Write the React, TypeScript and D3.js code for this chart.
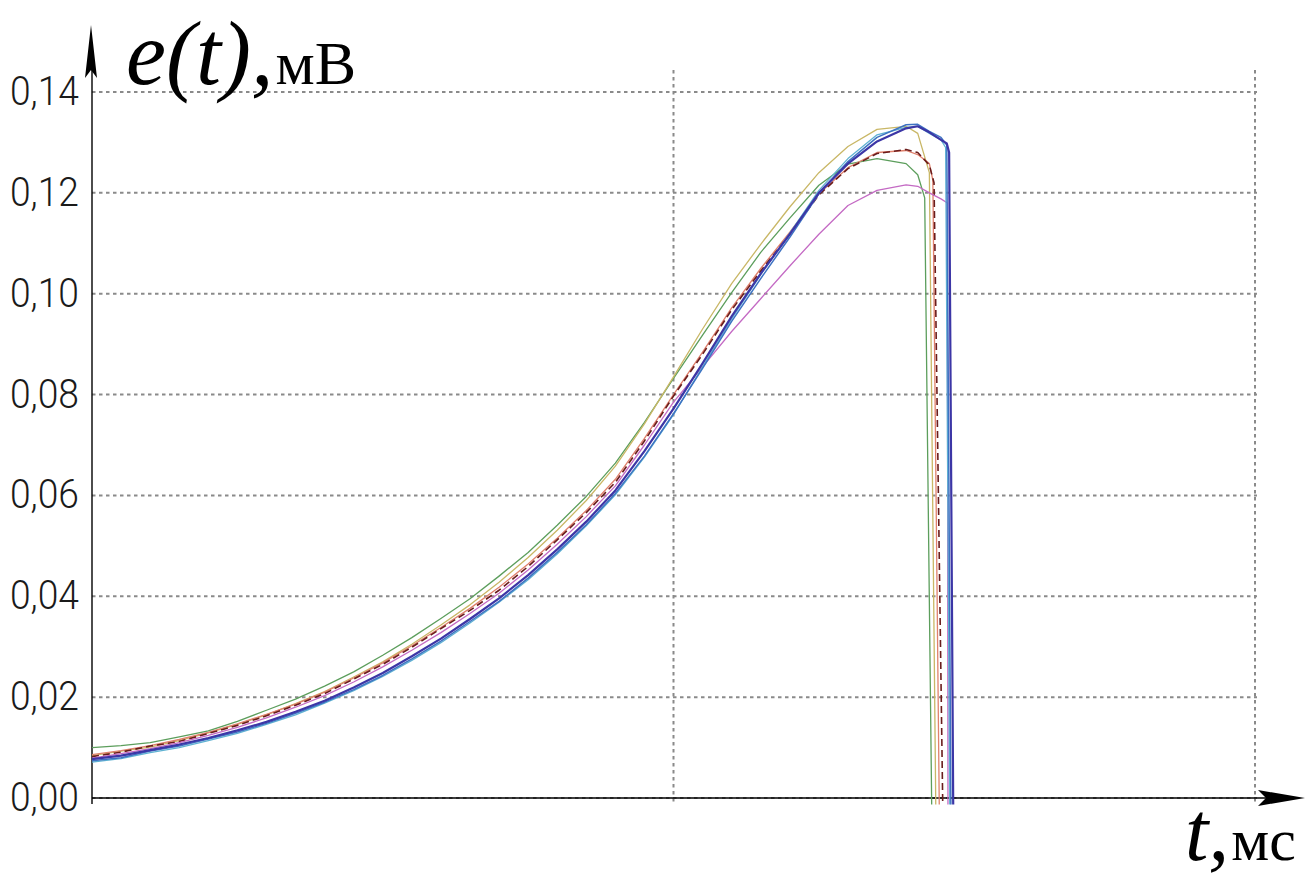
import {useEffect, useRef} from "react";
import * as d3 from 'd3'

// time grid, ms
const times = [0, 0.05, 0.1, 0.15, 0.2, 0.25, 0.3, 0.35, 0.4, 0.45, 0.5, 0.55, 0.6, 0.65, 0.7, 0.75, 0.8,
    0.85, 0.9, 0.95, 1.0, 1.05, 1.1, 1.15, 1.2, 1.25, 1.3, 1.35, 1.4, 1.42, 1.44, 1.46, 1.47]

const green = [.0100, .0104, .0110, .0121, .0133, .0152, .0174, .0196, .0222, .0250, .0283, .0318, .0356, .0395,
    .0440, .0487, .0541, .0598, .0664, .0745, .0832, .0918, .1002, .1082, .1150, .1215, .1257, .1268, .1258, .1236]
const olive = [.0084, .0093, .0101, .0114, .0129, .0146, .0165, .0187, .0211, .0240, .0270, .0305, .0343, .0383,
    .0428, .0477, .0531, .0590, .0658, .0742, .0835, .0930, .1020, .1098, .1172, .1240, .1292, .1326, .1332, .1318]
const salmon = [.0086, .0094, .0104, .0116, .0130, .0147, .0166, .0186, .0210, .0238, .0268, .0302, .0338, .0376,
    .0418, .0464, .0515, .0570, .0632, .0713, .0800, .0884, .0972, .1050, .1122, .1198, .1250, .1280, .1284, .1276, .1258]
const darkRed = [.0082, .0091, .0103, .0112, .0128, .0144, .0163, .0184, .0207, .0236, .0265, .0299, .0336, .0372,
    .0412, .0459, .0512, .0566, .0626, .0708, .0797, .0880, .0968, .1045, .1118, .1196, .1248, .1278, .1286, .1280, .1255]
const magenta = [.0079, .0088, .0098, .0110, .0124, .0140, .0159, .0180, .0203, .0230, .0260, .0293, .0328, .0366,
    .0406, .0452, .0503, .0558, .0619, .0700, .0785, .0855, .0925, .0990, .1055, .1118, .1175, .1205, .1216, .1213, .1200, .1188]
const cyan = [.0071, .0078, .0090, .0100, .0114, .0128, .0146, .0165, .0188, .0213, .0241, .0273, .0308, .0347,
    .0388, .0433, .0484, .0540, .0601, .0676, .0760, .0855, .0950, .1038, .1120, .1205, .1268, .1315, .1330, .1332, .1318, .1305]
const blue = [.0074, .0080, .0093, .0103, .0117, .0131, .0148, .0168, .0190, .0215, .0243, .0276, .0311, .0350,
    .0390, .0436, .0487, .0542, .0604, .0678, .0762, .0852, .0945, .1030, .1112, .1198, .1262, .1310, .1335, .1336, .1322, .1310]
const navy = [.0077, .0084, .0095, .0106, .0119, .0134, .0151, .0171, .0193, .0219, .0248, .0281, .0316, .0355,
    .0396, .0442, .0493, .0548, .0610, .0688, .0772, .0862, .0955, .1040, .1118, .1200, .1258, .1302, .1328, .1332, .1320, .1305, .1298]

// where each trace breaks off and falls to the floor
const seriesNames = ['green', 'olive', 'salmon', 'darkRed', 'magenta', 'cyan', 'blue', 'navy']
const dropTop = [1.432, 1.440, 1.446, 1.448, 1.471, 1.468, 1.470, 1.474]
const dropFrom = [0.119, 0.124, 0.1225, 0.122, 0.118, 0.129, 0.1295, 0.128]
const dropBottom = [1.444, 1.451, 1.457, 1.463, 1.472, 1.475, 1.477, 1.481]
const floorValue = -0.0013

const yTicks = [0, 0.02, 0.04, 0.06, 0.08, 0.1, 0.12, 0.14]
const yTickLabels = ['0,00', '0,02', '0,04', '0,06', '0,08', '0,10', '0,12', '0,14']
const xGrid = [1, 2]

const allValues = [green, olive, salmon, darkRed, magenta, cyan, blue, navy]
const colors = ['#5c9e5c', '#c9b766', '#e0806c', '#6a1c1c', '#c46ac4', '#5fb2d2', '#3d72c2', '#3c36a6']
const widths = [1.3, 1.3, 1.3, 1.6, 1.3, 1.3, 1.5, 2.2]

const W = 1306, H = 874

export default function App() {
    const ref = useRef(null)

    useEffect(() => {
        const svg = d3.select(ref.current)
        svg.selectAll('*').remove()

        const x = d3.scaleLinear().domain([0, 2]).range([92, 1255])
        const y = d3.scaleLinear().domain([0, 0.14]).range([798, 92])

        const grid = svg.append('g')
            .attr('stroke', '#8a8a8a')
            .attr('stroke-width', 2)
            .attr('stroke-dasharray', '3.5 3.5')
        grid.selectAll('line.h')
            .data(yTicks)
            .enter()
            .append('line')
            .attr('x1', x(0)).attr('x2', x(2) + 2)
            .attr('y1', d => y(d)).attr('y2', d => y(d))
        grid.selectAll('line.v')
            .data(xGrid)
            .enter()
            .append('line')
            .attr('x1', d => x(d)).attr('x2', d => x(d))
            .attr('y1', 70).attr('y2', y(0) + 7)

        // axes with arrows
        svg.append('line')
            .attr('x1', x(0)).attr('x2', 1270)
            .attr('y1', y(0)).attr('y2', y(0))
            .attr('stroke', '#000').attr('stroke-width', 1.4)
        svg.append('line')
            .attr('x1', x(0)).attr('x2', x(0))
            .attr('y1', y(0) + 6).attr('y2', 60)
            .attr('stroke', '#000').attr('stroke-width', 1.4)
        svg.append('path')
            .attr('d', `M${x(0) - 1},25 L${x(0) + 5},78 L${x(0) - 1},70 L${x(0) - 7},78 Z`)
            .attr('fill', '#000')
        svg.append('path')
            .attr('d', `M1305,${y(0)} L1258,${y(0) - 8} L1266,${y(0)} L1258,${y(0) + 8} Z`)
            .attr('fill', '#000')

        svg.append('g')
            .selectAll('text')
            .data(yTicks)
            .enter()
            .append('text')
            .attr('x', 10)
            .attr('y', d => y(d) + 13)
            .attr('font-family', 'Roboto, sans-serif')
            .attr('font-weight', 300)
            .attr('font-size', 40)
            .attr('textLength', 69)
            .attr('lengthAdjust', 'spacingAndGlyphs')
            .attr('fill', '#1a1a1a')
            .text((d, i) => yTickLabels[i])

        const line = d3.line()
            .x(d => x(d[0]))
            .y(d => y(d[1]))

        const traces = allValues.map((vals, i) => {
            const pts = vals.map((v, j) => [times[j], v])
            pts.push([dropTop[i], dropFrom[i]])
            pts.push([dropBottom[i], floorValue])
            return pts
        })

        svg.append('g')
            .attr('fill', 'none')
            .selectAll('path')
            .data(traces)
            .enter()
            .append('path')
            .attr('d', d => line(d))
            .attr('stroke', (d, i) => colors[i])
            .attr('stroke-width', (d, i) => widths[i])
            .attr('stroke-dasharray', (d, i) => seriesNames[i] === 'darkRed' ? '7 4' : null)
            .attr('stroke-linejoin', 'round')

        const yLabel = svg.append('text')
            .attr('x', 126)
            .attr('y', 84)
            .attr('font-family', '"Liberation Serif", serif')
            .attr('fill', '#000')
        yLabel.append('tspan').attr('font-style', 'italic').attr('font-size', 90).text('e(t),')
        yLabel.append('tspan').attr('font-size', 62).attr('dx', 2).text('мВ')

        const xLabel = svg.append('text')
            .attr('x', 1185)
            .attr('y', 860)
            .attr('font-family', '"Liberation Serif", serif')
            .attr('fill', '#000')
        xLabel.append('tspan').attr('font-style', 'italic').attr('font-size', 84).text('t,')
        xLabel.append('tspan').attr('font-size', 60).attr('dx', 2).text('мс')
    }, [])

    return (
        <svg ref={ref} width={W} height={H}
             style={{position: 'absolute', left: 0, top: 0, background: '#fff'}}/>
    )
}
